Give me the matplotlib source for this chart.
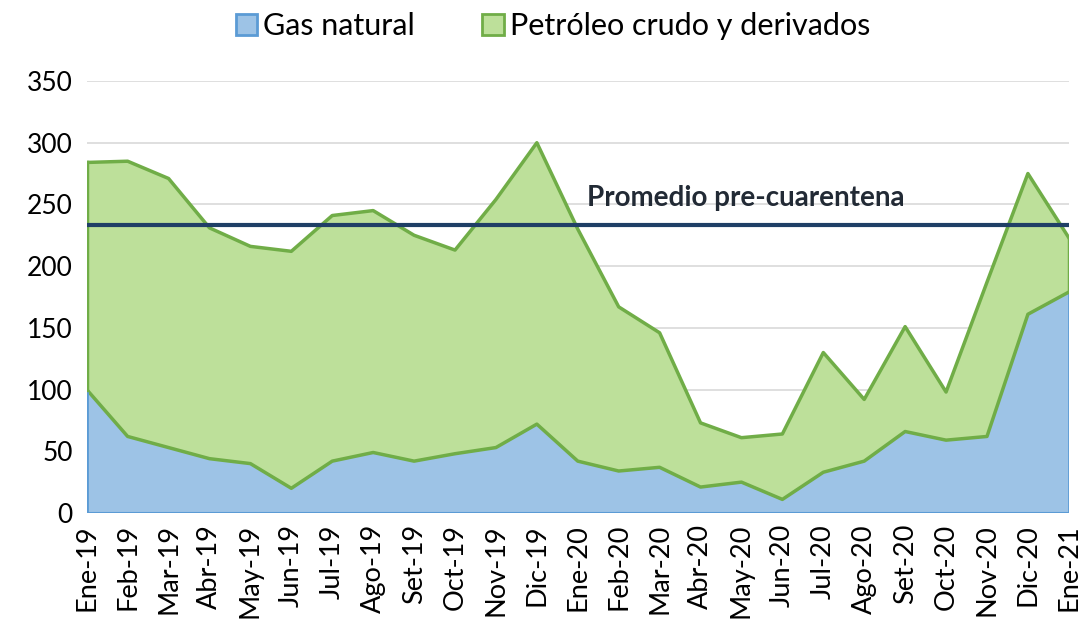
import matplotlib.pyplot as plt
import numpy as np
from matplotlib.patches import Patch

months = ["Ene-19", "Feb-19", "Mar-19", "Abr-19", "May-19", "Jun-19", "Jul-19",
          "Ago-19", "Set-19", "Oct-19", "Nov-19", "Dic-19", "Ene-20", "Feb-20",
          "Mar-20", "Abr-20", "May-20", "Jun-20", "Jul-20", "Ago-20", "Set-20",
          "Oct-20", "Nov-20", "Dic-20", "Ene-21"]
gas = [100, 62, 53, 44, 40, 20, 42, 49, 42, 48, 53, 72, 42, 34,
       37, 21, 25, 11, 33, 42, 66, 59, 62, 161, 179]
petroleo = [184, 223, 218, 187, 176, 192, 199, 196, 183, 165, 201, 228, 188, 133,
            109, 52, 36, 53, 97, 50, 85, 39, 125, 114, 44]
promedio = 233

plt.rcParams["font.family"] = ["Lato", "DejaVu Sans"]

fig = plt.figure(figsize=(10.84, 6.23), dpi=100)
ax = fig.add_axes([0.080, 0.1766, 0.906, 0.6934])

x = np.arange(len(months))
gas = np.array(gas)
total = gas + np.array(petroleo)

# stacked areas
ax.fill_between(x, 0, gas, facecolor="#9DC3E6", edgecolor="none", zorder=2)
ax.fill_between(x, gas, total, facecolor="#BDE09A", edgecolor="none", zorder=2)
ax.plot(x, gas, color="#70AD47", lw=2.5, zorder=3)
ax.plot(x, total, color="#70AD47", lw=2.5, zorder=3)
ax.plot([x[0], x[0]], [0, gas[0]], color="#5B9BD5", lw=2, zorder=3)
ax.plot([x[-1], x[-1]], [0, gas[-1]], color="#5B9BD5", lw=2, zorder=3)
ax.plot([x[0], x[0]], [gas[0], total[0]], color="#70AD47", lw=2.5, zorder=3)
ax.plot([x[-1], x[-1]], [gas[-1], total[-1]], color="#70AD47", lw=2.5, zorder=3)
ax.plot([x[0], x[-1]], [0, 0], color="#5B9BD5", lw=1.5, zorder=3)

ax.axhline(promedio, color="#1F3F66", lw=3, zorder=4)
ax.text(16.1, promedio + 12, "Promedio pre-cuarentena", fontsize=20,
        fontweight="bold", color="#222A35", ha="center", va="bottom", zorder=5)

ax.set_xlim(x[0], x[-1])
ax.set_ylim(0, 350)
ax.set_yticks(range(0, 351, 50))
ax.set_xticks(x)
ax.set_xticklabels(months, rotation=90, fontsize=19.5)
ax.tick_params(axis="y", labelsize=19, length=0, pad=10)
ax.tick_params(axis="x", length=0, pad=8)
ax.grid(axis="y", color="#D9D9D9", lw=1.2, zorder=1)
for s in ax.spines.values():
    s.set_visible(False)

handles = [Patch(facecolor="#9DC3E6", edgecolor="#5B9BD5", lw=2, label="Gas natural"),
           Patch(facecolor="#BDE09A", edgecolor="#70AD47", lw=2, label="Petróleo crudo y derivados")]
fig.legend(handles=handles, loc="upper center", bbox_to_anchor=(0.51, 1.025), ncol=2,
           frameon=False, fontsize=22, handlelength=0.7, handleheight=0.7,
           handletextpad=0.2, columnspacing=2.2)

fig.savefig("out.png", dpi=100)
